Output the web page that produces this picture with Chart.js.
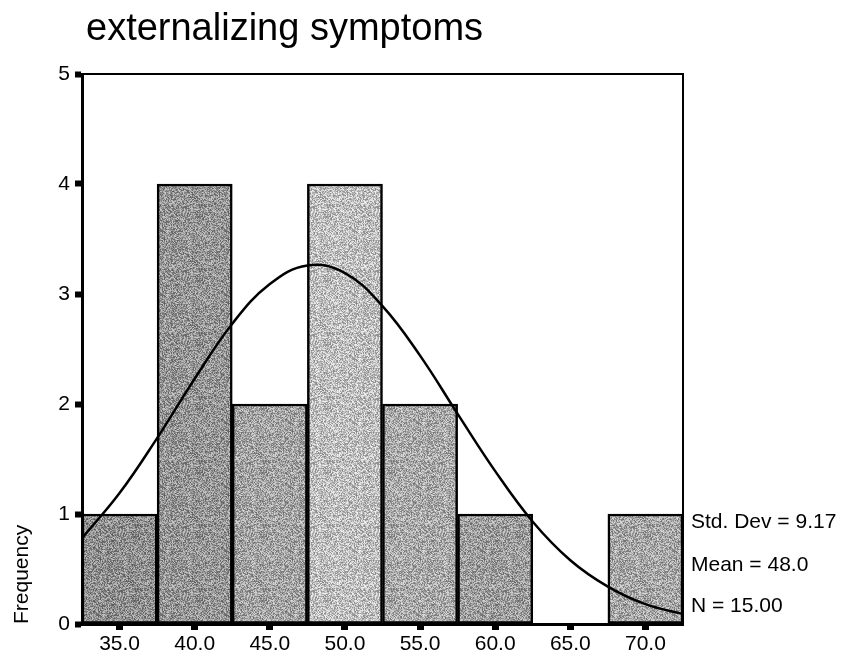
<!DOCTYPE html>
<html>
<head>
<meta charset="utf-8">
<script src="https://cdn.jsdelivr.net/npm/chart.js@4"></script>
<style>
  html, body { margin: 0; padding: 0; background: #fff; }
</style>
</head>
<body>
<canvas id="chart" width="842" height="657"></canvas>
<script>
var titleText = 'externalizing symptoms';
var yTitle = 'Frequency';
var binCenters = [35, 40, 45, 50, 55, 60, 65, 70];
var counts = [1, 4, 2, 4, 2, 1, 0, 1];
var barShades = [142, 148, 162, 189, 168, 156, 255, 165];
var curveX = [32.5, 35, 37.5, 40, 42.5, 45, 47.5, 50, 52.5, 55, 57.5, 60, 62.5, 65, 67.5, 70, 72.5];
var curveY = [0.78, 1.19, 1.69, 2.23, 2.73, 3.09, 3.26, 3.19, 2.89, 2.44, 1.91, 1.39, 0.93, 0.58, 0.34, 0.18, 0.09];
var xTicks = [35, 40, 45, 50, 55, 60, 65, 70];
var stats = ['Std. Dev = 9.17', 'Mean = 48.0', 'N = 15.00'];

var FONT = '"Liberation Sans", Arial, sans-serif';
var canvas = document.getElementById('chart');
var ctx = canvas.getContext('2d');

// grainy grey fill, a rough stand-in for the printed texture
function texture(shade) {
  var c = document.createElement('canvas');
  c.width = 64; c.height = 64;
  var g = c.getContext('2d');
  var img = g.createImageData(64, 64);
  for (var i = 0; i < 64 * 64; i++) {
    var x = i % 64, y = (i / 64) | 0;
    var h = Math.sin(x * 12.9898 + y * 78.233) * 43758.5453;
    var n = (h - Math.floor(h)) - 0.5;
    var v = Math.max(0, Math.min(255, shade + n * 110));
    img.data[i * 4] = img.data[i * 4 + 1] = img.data[i * 4 + 2] = v;
    img.data[i * 4 + 3] = 255;
  }
  g.putImageData(img, 0, 0);
  return ctx.createPattern(c, 'repeat');
}

var extras = {
  id: 'extras',
  afterDatasetsDraw: function (chart) {
    var c = chart.ctx, a = chart.chartArea;
    c.save();
    c.strokeStyle = '#000';
    c.lineWidth = 2;
    c.strokeRect(a.left, a.top, a.right - a.left, a.bottom - a.top);
    c.fillStyle = '#000';
    c.font = '38px ' + FONT;
    c.textBaseline = 'alphabetic';
    c.textAlign = 'left';
    c.fillText(titleText, 86, 40);
    c.font = '21px ' + FONT;
    c.textBaseline = 'middle';
    var offs = [102, 59, 18];
    stats.forEach(function (s, i) {
      c.fillText(s, a.right + 8, a.bottom - offs[i]);
    });
    c.restore();
  }
};

new Chart(canvas, {
  data: {
    datasets: [
      {
        type: 'line',
        data: curveX.map(function (x, i) { return { x: x, y: curveY[i] }; }),
        borderColor: '#000',
        borderWidth: 2.5,
        pointRadius: 0,
        tension: 0.4,
        fill: false,
        order: 1
      },
      {
        type: 'bar',
        data: binCenters.map(function (x, i) { return { x: x, y: counts[i] }; }),
        backgroundColor: barShades.map(texture),
        borderColor: '#000',
        borderWidth: 2.5,
        borderSkipped: false,
        barPercentage: 1,
        categoryPercentage: 1,
        order: 2
      }
    ]
  },
  options: {
    responsive: false,
    animation: false,
    layout: { padding: { top: 74, right: 159, left: 0, bottom: 0 } },
    plugins: {
      legend: { display: false },
      tooltip: { enabled: false },
      title: { display: false }
    },
    scales: {
      x: {
        type: 'linear',
        min: 32.5,
        max: 72.5,
        offset: false,
        afterBuildTicks: function (scale) {
          scale.ticks = xTicks.map(function (v) { return { value: v }; });
        },
        afterFit: function (scale) { scale.height = 33; },
        grid: {
          offset: false,
          drawOnChartArea: false,
          color: '#000',
          tickColor: '#000',
          tickLength: 6,
          tickWidth: 7
        },
        border: { display: true, color: '#000', width: 3 },
        ticks: {
          color: '#000',
          font: { family: FONT, size: 21 },
          padding: 2,
          maxRotation: 0,
          autoSkip: false,
          callback: function (v) { return Number(v).toFixed(1); }
        }
      },
      y: {
        min: 0,
        max: 5,
        afterFit: function (scale) { scale.width = 82; },
        grid: {
          drawOnChartArea: false,
          color: '#000',
          tickColor: '#000',
          tickLength: 7,
          tickWidth: 6
        },
        border: { display: true, color: '#000', width: 3 },
        ticks: {
          color: '#000',
          stepSize: 1,
          font: { family: FONT, size: 21 },
          padding: 5
        },
        title: {
          display: true,
          text: yTitle,
          align: 'start',
          color: '#000',
          font: { family: FONT, size: 21 },
          padding: { top: 10, bottom: 0 }
        }
      }
    }
  },
  plugins: [extras]
});
</script>
</body>
</html>
